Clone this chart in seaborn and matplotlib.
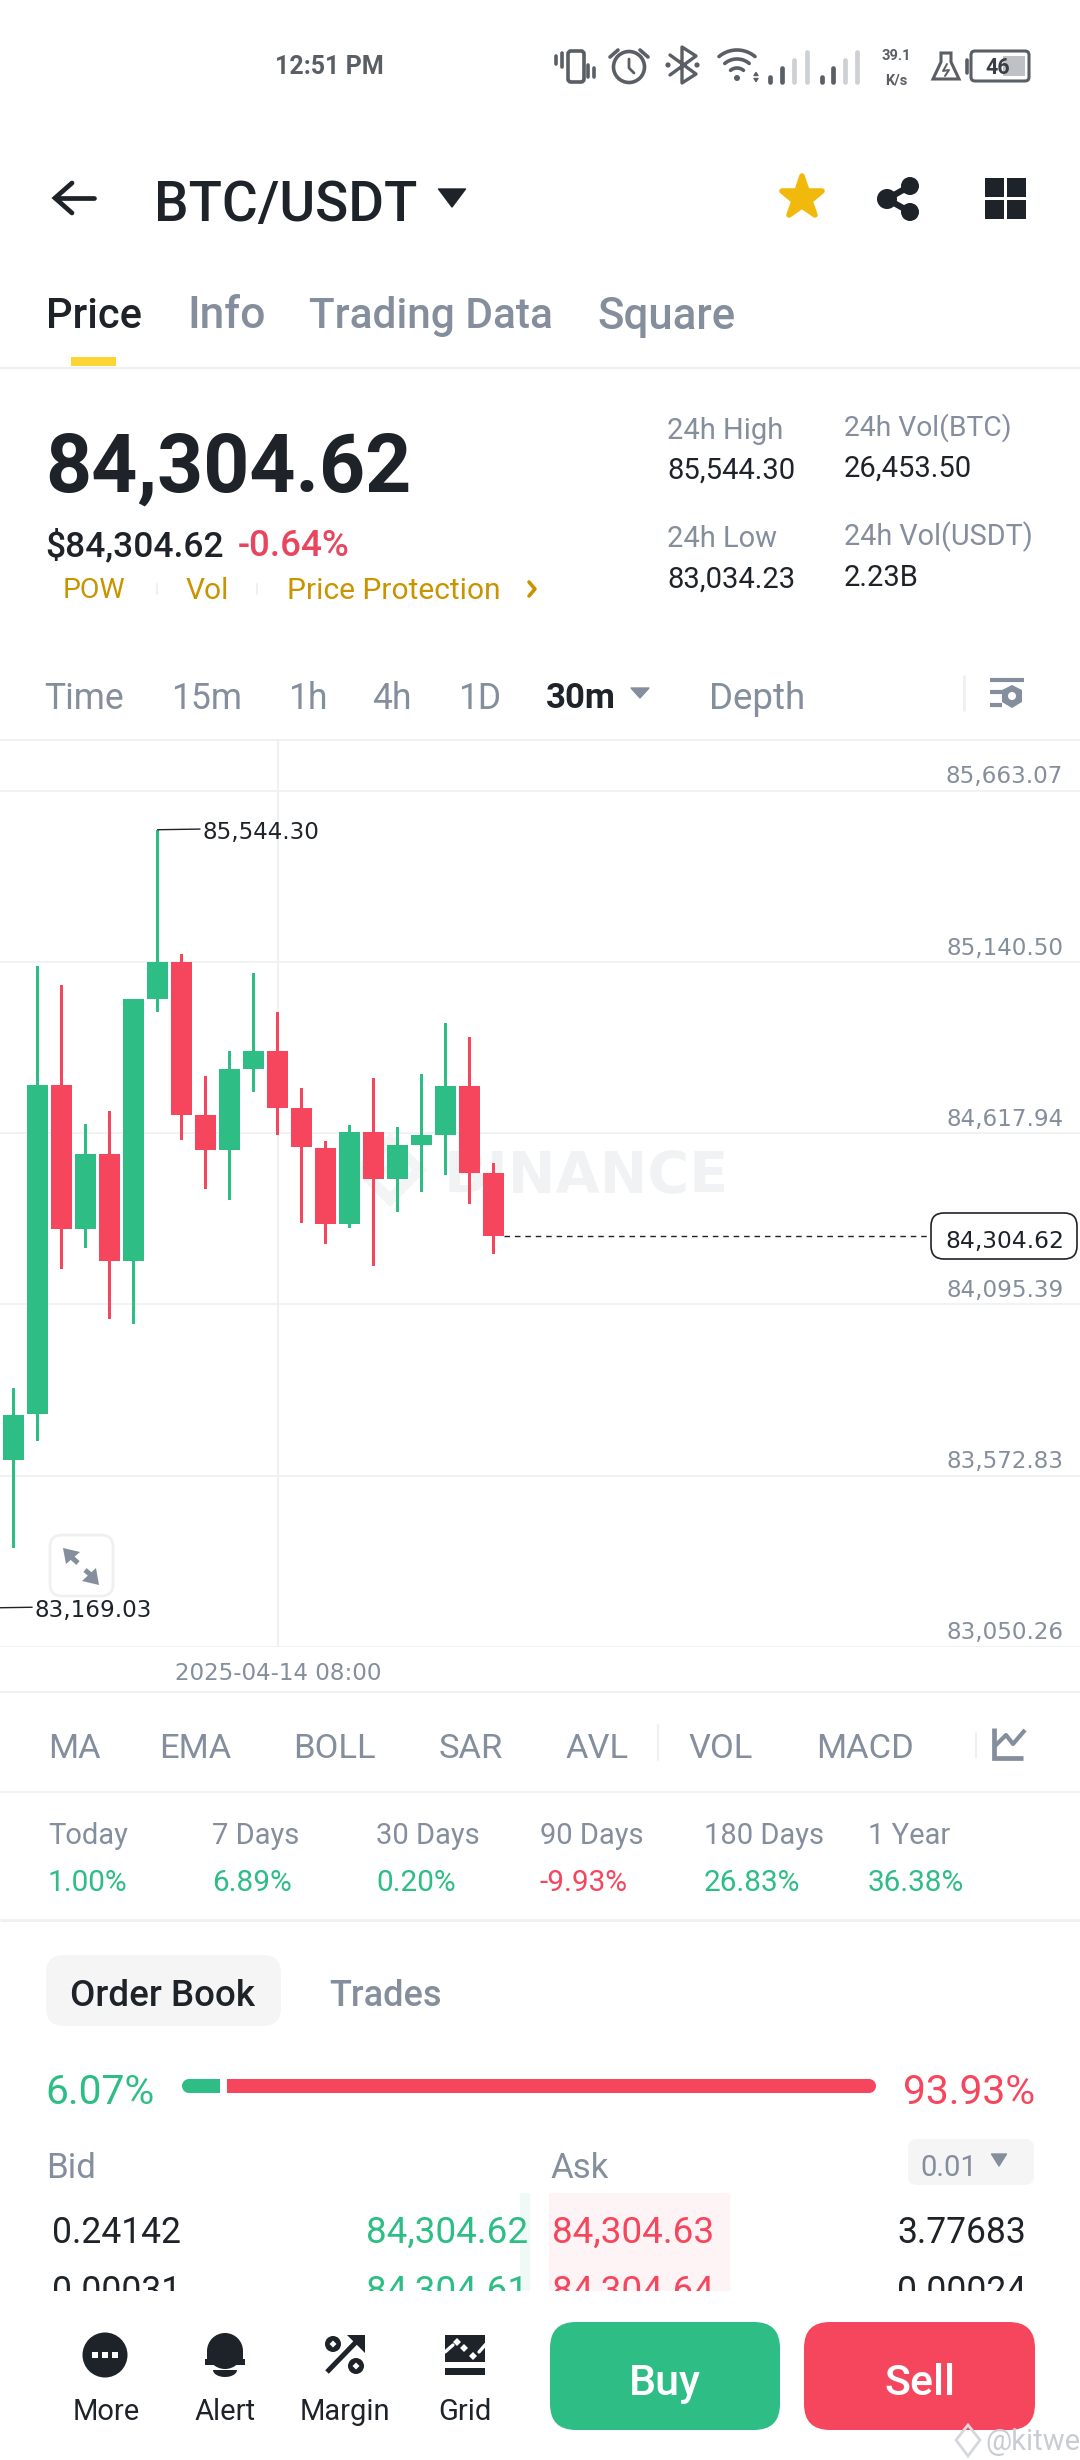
import matplotlib
matplotlib.use('Agg')
import matplotlib.pyplot as plt
from matplotlib.markers import MarkerStyle
from matplotlib.patches import FancyBboxPatch, Rectangle, Circle, Polygon
import seaborn as sns
import pandas as pd
import numpy as np

# candle data (first candle is off screen, only its low shows)
candle_idx = list(range(-1, 21))
opens = [83340.0, 83621.7, 83761.7, 84764.7, 84325.8, 84555.5, 84228.7, 85026.2, 85140.1, 84675.0, 84566.7,
         84815.1, 84869.3, 84695.6, 84574.2, 84340.7, 84622.7, 84477.1, 84581.7, 84613.4, 84762.8, 84495.7]
closes = [83621.7, 83758.0, 84764.7, 84325.8, 84555.5, 84228.7, 85026.2, 85140.1, 84675.0, 84566.7, 84813.3,
          84869.3, 84695.6, 84576.0, 84340.7, 84622.7, 84477.1, 84581.7, 84611.5, 84762.8, 84497.6, 84304.62]
highs = [83680.0, 83840.2, 85128.9, 85069.1, 84645.2, 84686.2, 85026.2, 85544.30, 85166.2, 84792.7, 84869.3,
         85108.3, 84988.8, 84755.3, 84592.9, 84643.3, 84787.1, 84635.8, 84798.3, 84955.2, 84912.2, 84527.5]
lows = [83169.03, 83350.8, 83677.7, 84204.4, 84267.9, 84049.4, 84036.3, 84988.8, 84598.5, 84447.2, 84415.4,
        84742.3, 84613.4, 84344.5, 84279.1, 84329.5, 84211.8, 84376.2, 84439.7, 84490.1, 84402.4, 84249.2]

grid_prices = [85663.07, 85140.50, 84617.94, 84095.39, 83572.83, 83050.26]
grid_labels = ['85,663.07', '85,140.50', '84,617.94', '84,095.39', '83,572.83', '83,050.26']
last_price = 84304.62

periods = ['Today', '7 Days', '30 Days', '90 Days', '180 Days', '1 Year']
returns = ['1.00%', '6.89%', '0.20%', '-9.93%', '26.83%', '36.38%']
bids = ['0.24142', '0.00031']
bid_prices = ['84,304.62', '84,304.61']
ask_prices = ['84,304.63', '84,304.64']
asks = ['3.77683', '0.00024']

GREEN = '#2EBD85'
RED = '#F6465D'
DARK = '#1E2329'
GRAY = '#848E9C'
GOLD = '#C99400'
LINE = '#EEF0F2'
ST = '#5A5F66'
ST2 = '#CDD0D4'

W, H = 1080, 2460
sns.set_style('white')
plt.rcParams['font.family'] = ['Roboto', 'DejaVu Sans']
# the seaborn style puts white edges on every patch, not wanted here
plt.rcParams['patch.force_edgecolor'] = False
plt.rcParams['patch.linewidth'] = 0

fig = plt.figure(figsize=(W / 100, H / 100), dpi=100)
fig.patch.set_facecolor('white')

# ---- chart, real price scale ----
top_px, bot_px = 739.4, 1646.8
ax = fig.add_axes([0, 1 - bot_px / H, 1, (bot_px - top_px) / H])
ax.patch.set_alpha(0)
ax.set_zorder(2)

df = pd.DataFrame({'idx': candle_idx, 'open': opens, 'close': closes, 'high': highs, 'low': lows})
df['side'] = np.where(df['close'] >= df['open'], 'up', 'down')
df['body'] = (df['close'] - df['open']).abs()
df['body_low'] = df[['open', 'close']].min(axis=1)
df['wick'] = df['high'] - df['low']
pal = {'up': GREEN, 'down': RED}

for side, sub in df.groupby('side'):
    sns.barplot(data=sub, x='idx', y='wick', bottom=sub['low'].values, color=pal[side], native_scale=True,
                width=0.115, saturation=1, errorbar=None, linewidth=0, ax=ax, zorder=3)
    sns.barplot(data=sub, x='idx', y='body', bottom=sub['body_low'].values, color=pal[side], native_scale=True,
                width=0.87, saturation=1, errorbar=None, linewidth=0, ax=ax, zorder=4)

ax.set_xlim(-0.574, 44.46)
ax.set_ylim(83050.26, 85820)
ax.set_xlabel('')
ax.set_ylabel('')
ax.set_xticks([])
ax.set_yticks(grid_prices)
ax.set_yticklabels([])
ax.tick_params(length=0)
ax.grid(axis='y', color=LINE, lw=1.2)
ax.set_axisbelow(True)
sns.despine(ax=ax, left=True, bottom=True, right=True, top=True)
ax.axvline(11, color=LINE, lw=1.5, zorder=1)

for p, lab in zip(grid_prices, grid_labels):
    ax.annotate(lab, xy=(1, p), xycoords=ax.get_yaxis_transform(), xytext=(-12, 1.8), textcoords='offset points',
                ha='right', va='bottom', fontsize=16.6, color=GRAY, family='DejaVu Sans', zorder=6,
                annotation_clip=False)

# high, low and last price callouts
ax.annotate('85,544.30', xy=(6, highs[7]), xytext=(32.5, -2), textcoords='offset points', ha='left', va='center',
            fontsize=16.6, color=DARK, family='DejaVu Sans', zorder=6,
            arrowprops=dict(arrowstyle='-', color=DARK, lw=1, shrinkA=0, shrinkB=0, relpos=(0, 0.65)))
ax.annotate('83,169.03', xy=(-1, lows[0]), xytext=(32.5, -2), textcoords='offset points', ha='left', va='center',
            fontsize=16.6, color=DARK, family='DejaVu Sans', zorder=6, annotation_clip=False,
            arrowprops=dict(arrowstyle='-', color=DARK, lw=1, shrinkA=0, shrinkB=0, relpos=(0, 0.65)))
ax.hlines(last_price, 20.435, 38.25, color=DARK, lw=1, linestyles=(0, (4, 3.5)), zorder=2)

# ---- everything around the chart, in screen pixels ----
ui = fig.add_axes([0, 0, 1, 1])
ui.set_xlim(0, W)
ui.set_ylim(H, 0)
ui.axis('off')
ui.set_zorder(1)
top = fig.add_axes([0, 0, 1, 1])
top.set_xlim(0, W)
top.set_ylim(H, 0)
top.axis('off')
top.patch.set_alpha(0)
top.set_zorder(3)


def txt(x, y, s, size=20, color=DARK, weight='normal', ha='left', a=None, family=None):
    a = a or ui
    kw = {'family': family} if family else {}
    return a.text(x, y, s, fontsize=size, color=color, fontweight=weight, ha=ha, va='center_baseline', **kw)


def box(a, x0, y0, x1, y1, r, fc, ec='none', lw=0, z=2):
    a.add_patch(FancyBboxPatch((x0 + r, y0 + r), x1 - x0 - 2 * r, y1 - y0 - 2 * r,
                               boxstyle=f'round,pad={r},rounding_size={r}', fc=fc, ec=ec, lw=lw, zorder=z))


def hline(y, color=LINE, lw=1.3):
    ui.plot([0, W], [y, y], color=color, lw=lw, solid_capstyle='butt')


def tri(a, cx, cy, w, h, color, z=2):
    a.add_patch(Polygon([(cx - w / 2, cy - h / 2), (cx + w / 2, cy - h / 2), (cx, cy + h / 2)], fc=color, ec=color,
                        lw=1, joinstyle='round', zorder=z))


def diamond(a, cx, cy, r, fc, z=3):
    a.add_patch(Polygon([(cx, cy - r), (cx + r, cy), (cx, cy + r), (cx - r, cy)], fc=fc, zorder=z))


def arc(a, cx, cy, r, t0, t1, color, lw):
    t = np.radians(np.linspace(t0, t1, 30))
    a.plot(cx + r * np.cos(t), cy - r * np.sin(t), color=color, lw=lw, solid_capstyle='round')


# watermark behind the candles
txt(729, 1171, 'BINANCE', 41, '#F1F2F3', 'bold', 'right', family='DejaVu Sans').set_zorder(0)
diamond(ui, 390, 1170, 37, '#F3F4F5', z=0)
diamond(ui, 390, 1170, 22, 'white', z=0.5)
diamond(ui, 390, 1170, 8, '#F3F4F5', z=0.6)

# status bar
txt(275, 65, '12:51 PM', 18, ST, 'bold')
box(ui, 568, 51, 584, 82, 3, 'white', ST, 2.6)
for x, y0, y1 in [(556, 56, 64), (562, 53, 67), (588, 65, 77), (594, 68, 77)]:
    ui.plot([x, x], [y0, y1], color=ST, lw=2.6)
ui.add_patch(Circle((629, 67), 15.5, fc='none', ec=ST, lw=2.6))
ui.plot([629, 629, 634], [59, 68, 73], color=ST, lw=2)
ui.plot([610, 618], [57, 50], color=ST, lw=2.6)
ui.plot([640, 648], [50, 57], color=ST, lw=2.6)
ui.plot([670, 696, 682, 682, 696, 670], [55, 74, 83, 47, 56, 75], color=ST, lw=2.4)
ui.add_patch(Circle((668, 65), 2.6, fc=ST))
ui.add_patch(Circle((697, 65), 2.6, fc=ST))
for r in (10, 19, 28):
    arc(ui, 737, 78, r, 50, 130, ST, 2.6)
ui.add_patch(Circle((737, 78), 3, fc=ST))
tri(ui, 756, 80, 4, 3, ST)
tri(ui, 756, 74, 4, -3, ST)
signal = [(770, 77, ST), (782, 68, ST), (794, 60, ST2), (807, 52, ST2),
          (822, 77, ST), (833, 68, ST), (845, 60, ST2), (857, 52, ST2)]
for x, y0, c in signal:
    ui.plot([x, x], [y0, 82], color=c, lw=3.4, solid_capstyle='round')
txt(896, 54, '39.1', 10.5, ST, 'bold', 'center')
txt(896, 79, 'K/s', 10.5, ST, 'bold', 'center')
ui.add_patch(Polygon([(941, 53), (951, 53), (951, 62), (959, 79), (933, 79), (941, 62)], fc='none', ec=ST, lw=2.2))
ui.plot([947, 943, 949, 945], [64, 71, 70, 76], color=ST, lw=1.4)
ui.plot([967, 967], [60, 73], color=ST, lw=2.6)
box(ui, 971, 51, 1029, 81, 4, 'white', ST, 2.2)
ui.add_patch(Rectangle((1003, 56), 22, 20, fc='#BEC1C5', zorder=3))
txt(998, 66, '46', 15.5, '#3A3F46', 'bold', 'center').set_zorder(4)

# title bar
ui.plot([94, 56], [198, 198], color=DARK, lw=3.4, solid_capstyle='round')
ui.plot([72, 55, 72], [183, 198, 213], color=DARK, lw=3.4, solid_capstyle='round', solid_joinstyle='miter')
txt(154, 200, 'BTC/USDT', 39.4, DARK, 'medium')
tri(ui, 452, 198, 27, 18, DARK)
ui.plot([802], [198], marker=MarkerStyle('*', joinstyle='round'), ms=31, color='#F0B90B', mec='#F0B90B', mew=4)
ui.plot([910, 887, 910], [186, 199, 212], color=DARK, lw=4.5)
for cx, cy, r in [(910, 186, 9), (887, 199, 10), (910, 212, 9)]:
    ui.add_patch(Circle((cx, cy), r, fc=DARK, zorder=3))
for x0, y0 in [(985, 178), (1007, 178), (985, 200), (1007, 200)]:
    ui.add_patch(Rectangle((x0, y0), 18.5, 18.5, fc=DARK))

# tabs
txt(46, 312, 'Price', 30, DARK, 'medium')
txt(187, 312, 'Info', 32, GRAY, 'medium')
txt(309, 312, 'Trading Data', 30.5, GRAY, 'medium')
txt(597, 312, 'Square', 31.5, GRAY, 'medium')
ui.add_patch(Rectangle((71, 357), 45, 9, fc='#FCD535', zorder=3))
hline(367.5, LINE, 1.6)

# price header
txt(45, 461, '84,304.62', 58, DARK, 'bold')
txt(45, 542, '$84,304.62', 25.5, DARK, 'medium')
txt(238, 542, '-0.64%', 26.5, '#E8465E', 'medium')
txt(63, 588, 'POW', 20.5, GOLD)
txt(186, 588, 'Vol', 21.5, GOLD)
txt(287, 588, 'Price Protection', 21.5, GOLD)
ui.plot([529, 535, 529], [582, 589, 596], color=GOLD, lw=2.6)
ui.plot([157, 157], [584, 594], color=LINE, lw=1.5)
ui.plot([257, 257], [584, 594], color=LINE, lw=1.5)
txt(667, 428, '24h High', 21, GRAY)
txt(667, 468, '85,544.30', 21, DARK)
txt(667, 536, '24h Low', 21, GRAY)
txt(667, 577, '83,034.23', 21, DARK)
txt(844, 424, '24h Vol(BTC)', 20.3, GRAY)
txt(844, 466, '26,453.50', 21, DARK)
txt(844, 533, '24h Vol(USDT)', 20.7, GRAY)
txt(844, 575, '2.23B', 21, DARK)

# time frames
for x, s in [(44, 'Time'), (171, '15m'), (288, '1h'), (372, '4h'), (458, '1D')]:
    txt(x, 695, s, 25.6, GRAY)
txt(709, 695, 'Depth', 26.5, GRAY)
txt(546, 695, '30m', 25, DARK, 'bold')
tri(ui, 640, 693, 18, 10, GRAY)
ui.plot([964, 964], [676, 710], color=LINE, lw=2)
ui.plot([990, 1024], [680, 680], color=GRAY, lw=3, solid_capstyle='butt')
ui.plot([990, 1002], [692, 692], color=GRAY, lw=3, solid_capstyle='butt')
ui.plot([990, 1002], [705, 705], color=GRAY, lw=3, solid_capstyle='butt')
ui.add_patch(Polygon([(1012, 685), (1022, 690), (1022, 702), (1012, 708), (1002, 702), (1002, 690)], fc=GRAY))
ui.add_patch(Circle((1012, 696), 4, fc='white', zorder=3))
hline(739.5)

# chart extras that sit on top
txt(278, 1671, '2025-04-14 08:00', 16.6, GRAY, ha='center', family='DejaVu Sans')
box(top, 50, 1535, 113, 1596, 12, 'white', LINE, 2)
top.add_patch(Polygon([(63, 1548), (80, 1552), (66, 1564)], fc=GRAY, zorder=4))
top.add_patch(Polygon([(99, 1585), (82, 1581), (96, 1568)], fc=GRAY, zorder=4))
top.plot([70, 78], [1556, 1563], color=GRAY, lw=3.6, zorder=4, solid_capstyle='butt')
top.plot([85, 92], [1570, 1576], color=GRAY, lw=3.6, zorder=4, solid_capstyle='butt')
box(top, 931, 1213, 1077, 1259, 13, 'white', DARK, 1.2)
txt(1005, 1239, '84,304.62', 16.8, DARK, ha='center', a=top, family='DejaVu Sans').set_zorder(5)
hline(1692, LINE, 1.6)

# indicators row
for x, s in [(48, 'MA'), (159, 'EMA'), (293, 'BOLL'), (439, 'SAR'), (566, 'AVL'), (689, 'VOL'), (816, 'MACD')]:
    txt(x, 1746, s, 24.8, GRAY)
ui.plot([658, 658], [1725, 1760], color=LINE, lw=1.5)
ui.plot([976, 976], [1733, 1757], color=LINE, lw=1.5)
ui.plot([994, 994, 1023], [1728, 1758, 1758], color=GRAY, lw=3.4, solid_capstyle='butt', solid_joinstyle='miter')
ui.plot([994, 1006, 1013, 1025], [1747, 1735, 1744, 1730], color=GRAY, lw=3, solid_capstyle='butt')
hline(1792)

# period returns
period_x = [48, 212, 376, 540, 704, 868]
for x, p, r in zip(period_x, periods, returns):
    txt(x, 1833, p, 21, GRAY)
    txt(x, 1880, r, 21.4, RED if r.startswith('-') else GREEN)
hline(1920, LINE, 2.2)

# order book
box(ui, 46, 1955, 281, 2026, 18, '#F5F5F5')
txt(70, 1992, 'Order Book', 26.5, DARK, 'medium').set_zorder(4)
txt(329, 1992, 'Trades', 26, GRAY, 'medium')
txt(45, 2088, '6.07%', 29.3, GREEN)
txt(1035, 2088, '93.93%', 29.3, RED, ha='right')
ui.add_patch(Circle((189, 2086), 7, fc=GREEN))
ui.add_patch(Rectangle((189, 2079), 31, 14, fc=GREEN))
ui.add_patch(Rectangle((227, 2079), 642, 14, fc=RED))
ui.add_patch(Circle((869, 2086), 7, fc=RED))
txt(46, 2165, 'Bid', 25, GRAY)
txt(550, 2165, 'Ask', 25, GRAY)
box(ui, 908, 2139, 1034, 2185, 9, '#F5F5F5')
txt(920, 2165, '0.01', 21, GRAY).set_zorder(4)
tri(ui, 999, 2160, 15, 12, GRAY, z=4)
ui.add_patch(Rectangle((549, 2193), 181, 100, fc='#FEF4F5', zorder=0))
ui.add_patch(Rectangle((520, 2193), 10, 100, fc='#EFFAF6', zorder=0))
for y, b, bp, ap, a in zip([2229, 2288], bids, bid_prices, ask_prices, asks):
    txt(52, y, b, 25.6, DARK)
    txt(528, y, bp, 26.6, GREEN, ha='right')
    txt(552, y, ap, 26.6, RED)
    txt(1026, y, a, 25.6, DARK, ha='right')

# bottom bar covers the clipped row
top.add_patch(Rectangle((0, 2291), W, H - 2291, fc='white', zorder=1))
top.add_patch(Circle((105, 2355), 22.5, fc=DARK, zorder=2))
for x in (95, 105, 115):
    top.add_patch(Rectangle((x - 3, 2352), 6, 6, fc='white', zorder=3))
# bell
top.add_patch(Circle((225, 2351), 18, fc=DARK, zorder=2))
top.add_patch(Rectangle((207, 2351), 36, 10, fc=DARK, zorder=2))
top.add_patch(Rectangle((205, 2359), 40, 6, fc=DARK, zorder=2))
t = np.radians(np.linspace(0, 180, 20))
top.add_patch(Polygon(np.column_stack([225 + 12 * np.cos(t), 2370 + 7 * np.sin(t)]), fc=DARK, zorder=2))
# margin
top.add_patch(Circle((333, 2344), 8, fc=DARK, zorder=2))
top.add_patch(Circle((356, 2366), 8, fc=DARK, zorder=2))
diamond(top, 333, 2344, 3.5, 'white')
diamond(top, 356, 2366, 3.5, 'white')
top.plot([327, 358], [2372, 2340], color=DARK, lw=3.6, zorder=2, solid_capstyle='butt')
top.add_patch(Polygon([(347, 2335), (365, 2335), (365, 2353)], fc=DARK, zorder=2))
# grid
top.add_patch(Rectangle((445, 2335), 40, 27, fc=DARK, zorder=2))
top.add_patch(Rectangle((445, 2368), 40, 7, fc=DARK, zorder=2))
top.plot([445, 453], [2352, 2345], color='white', lw=2.4, zorder=3)
top.plot([479, 486], [2352, 2344], color='white', lw=2.4, zorder=3)
for cx, cy in [(457, 2342), (464, 2348), (473, 2356)]:
    diamond(top, cx, cy, 4, 'white')
for x, s in [(106, 'More'), (225, 'Alert'), (345, 'Margin'), (465, 'Grid')]:
    txt(x, 2409, s, 21, DARK, ha='center', a=top).set_zorder(4)
box(top, 550, 2322, 780, 2430, 26, GREEN)
box(top, 804, 2322, 1035, 2430, 26, RED)
txt(665, 2379, 'Buy', 31, 'white', 'medium', 'center', a=top).set_zorder(4)
txt(920, 2379, 'Sell', 31, 'white', 'medium', 'center', a=top).set_zorder(4)
top.add_patch(Polygon([(968, 2425), (980, 2440), (968, 2456), (956, 2440)], fc='none', ec='#D5D8DC', lw=2, zorder=5))
txt(985, 2439, '@kitwe', 21, '#C9CDD2', a=top).set_zorder(5)

fig.savefig('out.png', dpi=100, facecolor='white')
